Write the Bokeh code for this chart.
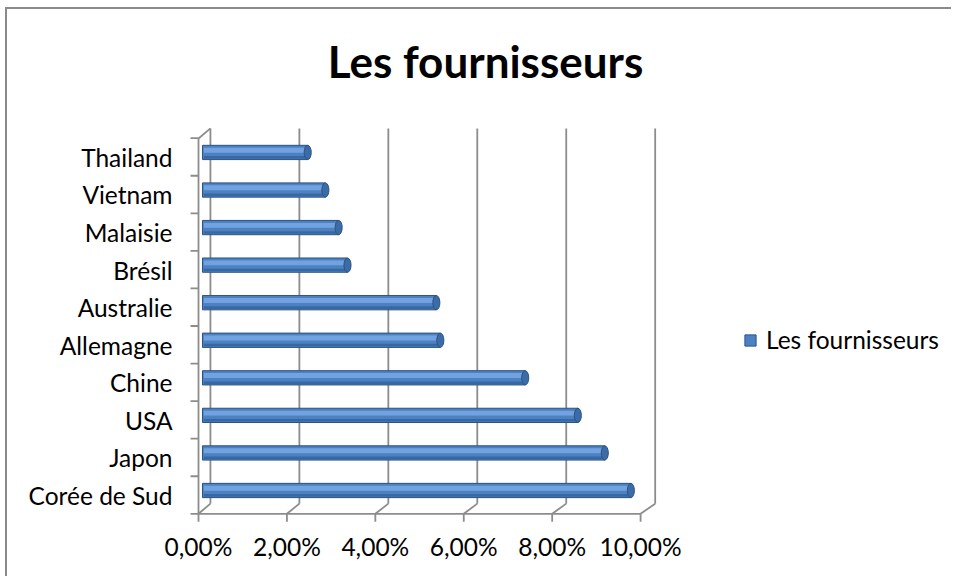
from bokeh.plotting import figure
from bokeh.models import (Range1d, FixedTicker, CustomJSTickFormatter, Label,
                          Legend, LegendItem, ColumnDataSource)
from bokeh.embed import file_html
from bokeh.resources import INLINE

# ---- data ----
countries = ["Corée de Sud", "Japon", "USA", "Chine", "Allemagne",
             "Australie", "Brésil", "Malaisie", "Vietnam", "Thailand"]
shares = [9.66, 9.07, 8.46, 7.27, 5.35, 5.26, 3.25, 3.05, 2.75, 2.35]
x_ticks = [0, 2, 4, 6, 8, 10]
x_tick_labels = ["0,00%", "2,00%", "4,00%", "6,00%", "8,00%", "10,00%"]
title_text = "Les fournisseurs"
series_name = "Les fournisseurs"

FONT = "Lato"
GRID = "#8C8C8C"

# depth offsets of the pseudo-3D box (data units)
DX, DY = 0.27, 0.27
FLOOR = -0.62
TOP_FRONT = 9.37
BAR_SHIFT = 0.12

n = len(countries)
ys = list(range(n))
lefts = [0.09] * n
rights = [v + BAR_SHIFT for v in shares]

p = figure(width=946, height=569, output_backend="svg", toolbar_location=None,
           x_range=Range1d(-0.294, 17.01), y_range=Range1d(-0.852, 12.726),
           min_border_left=178, min_border_right=3, min_border_top=3,
           min_border_bottom=56)
p.styles = {"border-left": "2px solid #8a8a8a", "border-top": "2px solid #8a8a8a",
            "margin-left": "5px", "margin-top": "7px"}
p.outline_line_color = None
p.grid.visible = False
p.background_fill_color = "white"
p.border_fill_color = "white"

# back wall gridlines and floor diagonals
bx = [t * 1.006 + DX for t in x_ticks]
p.segment(x0=bx, y0=[FLOOR + DY] * len(bx), x1=bx, y1=[TOP_FRONT + DY] * len(bx),
          line_color=GRID, line_width=1.8)
p.segment(x0=x_ticks, y0=[FLOOR] * len(bx), x1=bx, y1=[FLOOR + DY] * len(bx),
          line_color=GRID, line_width=1.8)
# front axes
p.segment(x0=[0, 0, 0], y0=[FLOOR, FLOOR, TOP_FRONT],
          x1=[x_ticks[-1], 0, DX], y1=[FLOOR, TOP_FRONT, TOP_FRONT + DY],
          line_color=GRID, line_width=1.8)
# x tick marks
p.segment(x0=x_ticks, y0=[FLOOR] * len(x_ticks), x1=x_ticks,
          y1=[FLOOR - 0.21] * len(x_ticks), line_color=GRID, line_width=1.8)
# y tick marks at category boundaries
yb = [FLOOR + k for k in range(n + 1)]
p.segment(x0=[0] * len(yb), y0=yb, x1=[-0.18] * len(yb), y1=yb,
          line_color=GRID, line_width=1.8)

# cylinders
src = ColumnDataSource(dict(y=ys, left=lefts, right=rights))
base = p.hbar(y="y", left="left", right="right", height=0.38, source=src,
              fill_color="#4D82C2", line_color="#2C5282", line_width=1)
p.hbar(y=[y + 0.06 for y in ys], left=[l + 0.03 for l in lefts],
       right=[r - 0.06 for r in rights], height=0.13,
       fill_color="#72A3E0", line_color=None)
p.hbar(y=[y - 0.13 for y in ys], left=[l + 0.03 for l in lefts],
       right=[r - 0.06 for r in rights], height=0.07,
       fill_color="#3768A3", line_color=None)
p.ellipse(x=rights, y=ys, width=0.16, height=0.38,
          fill_color="#3C6CA8", line_color="#2C5282", line_width=1)

# axes (labels only)
p.xaxis.ticker = FixedTicker(ticks=x_ticks)
p.xaxis.formatter = CustomJSTickFormatter(
    args=dict(tvals=x_ticks, labels=x_tick_labels),
    code="return labels[tvals.indexOf(Math.round(tick))];")
p.yaxis.ticker = FixedTicker(ticks=[y - 0.13 for y in ys])
p.yaxis.formatter = CustomJSTickFormatter(
    args=dict(names=countries), code="return names[Math.round(tick + 0.13)];")
for ax in (p.xaxis[0], p.yaxis[0]):
    ax.axis_line_color = None
    ax.major_tick_line_color = None
    ax.minor_tick_line_color = None
    ax.major_label_text_font = FONT
    ax.major_label_text_font_size = "24.5px"
    ax.major_label_text_color = "black"
p.xaxis.major_label_standoff = 3
p.yaxis.major_label_standoff = 7

# title (screen units are relative to the frame)
p.add_layout(Label(x=300, y=462, x_units="screen", y_units="screen",
                   text=title_text, text_font=FONT, text_font_style="bold",
                   text_font_size="44px", text_align="center",
                   text_baseline="alphabetic", text_color="black"))

# legend
legend = Legend(items=[LegendItem(label=series_name, renderers=[base])],
                location=(558, 168), glyph_width=14, glyph_height=14,
                label_standoff=9, padding=0, margin=0, border_line_color=None,
                background_fill_alpha=0, label_text_font=FONT,
                label_text_font_size="24.5px", label_text_color="black")
p.add_layout(legend)

open("out.html", "w").write(file_html(p, INLINE))
